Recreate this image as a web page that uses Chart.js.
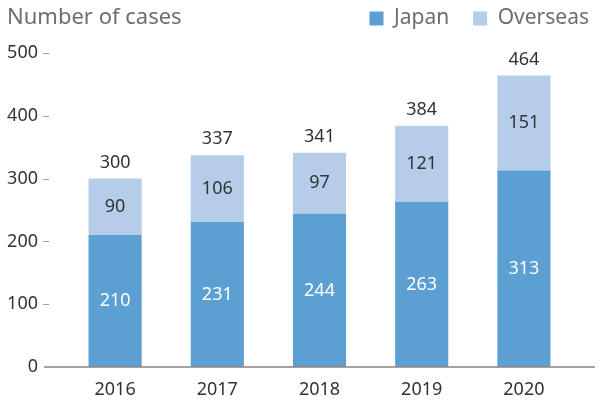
<!DOCTYPE html>
<html>
<head>
<meta charset="utf-8">
<script src="https://cdn.jsdelivr.net/npm/chart.js@4"></script>
<style>
  html, body { margin: 0; padding: 0; background: #fff; }
  #wrap { width: 599px; height: 408px; }
</style>
</head>
<body>
<div id="wrap"><canvas id="cases"></canvas></div>
<script>
const years = ['2016', '2017', '2018', '2019', '2020'];
const japan = [210, 231, 244, 263, 313];
const overseas = [90, 106, 97, 121, 151];
const totals = [300, 337, 341, 384, 464];
const yTicks = [0, 100, 200, 300, 400, 500];

const FONT = '"Noto Sans", "Open Sans", sans-serif';

// heading, axis baseline, little tick dashes and value labels
const extras = {
  id: 'extras',
  beforeInit(chart) {
    const fit = chart.legend.fit;
    chart.legend.fit = function () {
      fit.call(this);
      this.height = 53;
    };
  },
  afterLayout(chart) {
    const lg = chart.legend;
    lg.top -= 16; lg.bottom -= 16;
    lg.left += 14; lg.right += 14;
  },
  afterDraw(chart) {
    const c = chart.ctx;
    const y = chart.scales.y;
    c.save();
    c.font = '22px ' + FONT;
    c.fillStyle = '#6e6e6e';
    c.textAlign = 'left';
    c.textBaseline = 'alphabetic';
    c.fillText('Number of cases', 7, 24);

    c.strokeStyle = '#a0a0a0';
    c.lineWidth = 1;
    yTicks.forEach(v => {
      if (v === 0) return;
      const py = Math.round(y.getPixelForValue(v)) + 0.5;
      c.beginPath(); c.moveTo(43, py); c.lineTo(49, py); c.stroke();
    });
    const by = y.getPixelForValue(0);
    c.strokeStyle = '#8c8480';
    c.lineWidth = 1.5;
    c.beginPath(); c.moveTo(44, by); c.lineTo(595, by); c.stroke();
    c.restore();
  },
  afterDatasetsDraw(chart) {
    const c = chart.ctx;
    c.save();
    c.font = '18px ' + FONT;
    c.textAlign = 'center';
    c.textBaseline = 'middle';
    chart.data.datasets.forEach((ds, i) => {
      const meta = chart.getDatasetMeta(i);
      meta.data.forEach((bar, j) => {
        const p = bar.getProps(['x', 'y', 'base'], true);
        c.fillStyle = i === 0 ? '#ffffff' : '#333333';
        c.fillText(String(ds.data[j]), p.x, (p.y + p.base) / 2);
        if (i === chart.data.datasets.length - 1) {
          c.fillStyle = '#333333';
          c.fillText(String(totals[j]), p.x, p.y - 16);
        }
      });
    });
    c.restore();
  }
};

new Chart(document.getElementById('cases'), {
  type: 'bar',
  data: {
    labels: years,
    datasets: [
      { label: 'Japan', data: japan, backgroundColor: '#5b9fd3' },
      { label: 'Overseas', data: overseas, backgroundColor: '#b5cde8' }
    ]
  },
  options: {
    responsive: true,
    maintainAspectRatio: false,
    animation: false,
    layout: { padding: 0 },
    datasets: { bar: { categoryPercentage: 1, barPercentage: 0.52 } },
    plugins: {
      legend: {
        position: 'top',
        align: 'end',
        labels: {
          boxWidth: 14,
          boxHeight: 14,
          padding: 24,
          color: '#6e6e6e',
          font: { family: FONT, size: 21 }
        }
      },
      tooltip: { enabled: false }
    },
    scales: {
      x: {
        stacked: true,
        grid: { display: false, drawTicks: false },
        border: { display: false },
        ticks: { color: '#333', padding: 12, font: { family: FONT, size: 18 } },
        afterFit(s) { s.height = 41; }
      },
      y: {
        stacked: true,
        min: 0,
        max: 500,
        grid: { display: false, drawTicks: false },
        border: { display: false },
        ticks: { stepSize: 100, color: '#333', padding: 26, font: { family: FONT, size: 18 } },
        afterFit(s) { s.width = 64; }
      },
      y2: {
        position: 'right',
        grid: { display: false, drawTicks: false },
        border: { display: false },
        ticks: { display: false },
        afterFit(s) { s.width = 24; }
      }
    }
  },
  plugins: [extras]
});
</script>
</body>
</html>
